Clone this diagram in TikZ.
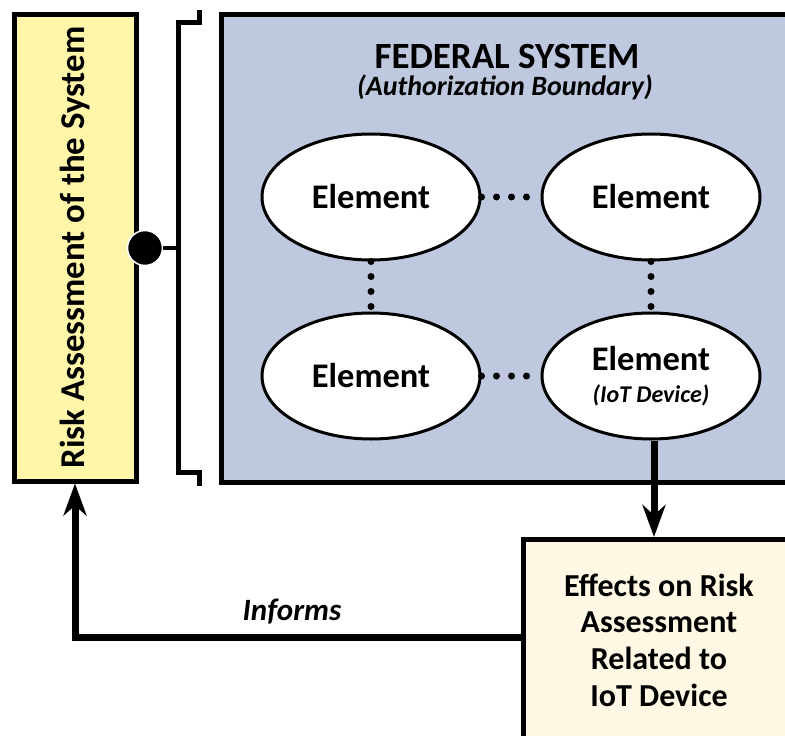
\documentclass[tikz,border=0pt]{standalone}
\usepackage{fontspec}
\setmainfont{Carlito}
\usetikzlibrary{arrows.meta,shapes.geometric}
\definecolor{riskyellow}{HTML}{FFF6A9}
\definecolor{fedblue}{HTML}{BEC9E0}
\definecolor{effectcream}{HTML}{FEF8E4}
\begin{document}
\begin{tikzpicture}[x=1pt,y=-1pt,
  box/.style={draw=black, line width=5pt, inner sep=0pt},
  elem/.style={ellipse, draw=black, fill=white, line width=3pt,
    minimum width=218pt, minimum height=126pt, inner sep=0pt,
    align=center, font=\bfseries\fontsize{34.5}{36}\selectfont},
  dotline/.style={line width=7pt, line cap=round, dash pattern=on 0pt off 15pt},
  flow/.style={line width=7pt, -{Stealth[length=32pt,width=23pt,inset=10pt]}},
  bracket/.style={line width=5pt},
  bigtext/.style={font=\bfseries\fontsize{34.8}{36}\selectfont},
]
\useasboundingbox (0,0) rectangle (785,736);
\clip (0,0) rectangle (785,736);

% risk assessment column
\node[box, fill=riskyellow, minimum width=122pt, minimum height=467pt] (riskbox) at (75,247.5) {};
\node[bigtext, rotate=90] (risktext) at (riskbox.center) {Risk Assessment of the System};

% federal system boundary
\node[box, fill=fedblue, minimum width=678pt, minimum height=468.5pt] (fed) at (560.5,248.25) {};
\node[font=\bfseries\fontsize{37}{38}\selectfont] (fedtitle) at (507,56) {FEDERAL SYSTEM};
\node[font=\bfseries\itshape\fontsize{28}{30}\selectfont] (fedsub) at (505,87) {(Authorization Boundary)};

% elements inside the boundary
\node[elem] (el1) at (371,197) {Element};
\node[elem] (el2) at (651,197) {Element};
\node[elem] (el3) at (371,376) {Element};
\node[elem] (el4) at (651,376) {Element\\[-4pt]{\itshape\fontsize{24}{26}\selectfont(IoT Device)}};

\draw[dotline] (el1.east) -- (el2.west);
\draw[dotline] (el3.east) -- (el4.west);
\draw[dotline] (el1.south) -- (el3.north);
\draw[dotline] (el2.south) -- (el4.north);

% bracket tying the assessment to the boundary
\coordinate (brtop) at (199.5,22);
\coordinate (brbot) at (199.5,472.5);
\draw[bracket] (199.5,10) -- (brtop) -- (178,22) -- (178,472.5) -- (brbot) -- (199.5,486);
\node[circle, fill=black, draw=white, line width=1.5pt, minimum size=35pt, inner sep=0pt] (hub) at (145,248) {};
\draw[line width=4.5pt] (hub.east) -- (178,248);

% effects box
\node[box, fill=effectcream, minimum width=377pt, minimum height=260.5pt] (effects) at (711.5,669.75) {};
\node[align=center, font=\bfseries\fontsize{32}{36.7}\selectfont] (effecttext) at (659,640)
  {Effects on Risk\\Assessment\\Related to\\IoT Device};

% flows
\draw[flow] ([xshift=3pt]el4.south) -- ([xshift=3pt]el4.south |- effects.north);
\coordinate (bend) at (75,637);
\draw[flow] (effects.west |- bend) -- (bend) -- (riskbox.south);
\node[font=\bfseries\itshape\fontsize{31}{32}\selectfont] (informs) at (292,612) {Informs};
\end{tikzpicture}
\end{document}
